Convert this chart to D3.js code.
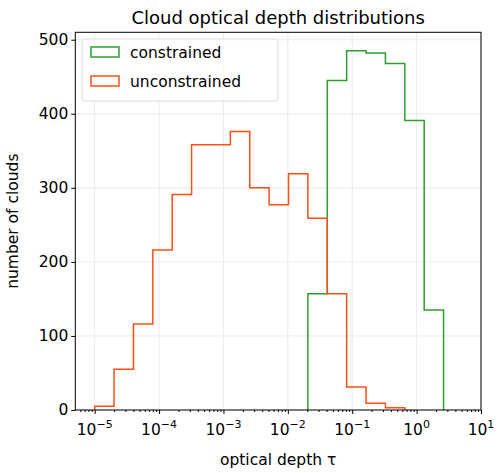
<!DOCTYPE html><html><head><meta charset="utf-8"><script src="https://cdn.jsdelivr.net/npm/d3@7"></script>
<style>body{margin:0;background:#fff}text{font-family:"DejaVu Sans";}</style></head><body><svg id="c" width="500" height="473"></svg><script>
const binEdges=[1e-5,2e-5,4e-5,8e-5,1.6e-4,3.2e-4,6.4e-4,1.28e-3,2.56e-3,5.12e-3,1.024e-2,2.048e-2,4.096e-2,8.192e-2,0.16384,0.32768,0.65536,1.31072,2.62144];
const unconstrained=[5,55,116,216,291,358,358,376,300,277,319,259,157,31,9,3,0,0];
const constrained=[0,0,0,0,0,0,0,0,0,0,0,157,445,485,482,468,391,135];
const xTicks=[-5,-4,-3,-2,-1,0,1];
const yTicks=[0,100,200,300,400,500];
const svg=d3.select("#c");
const L=75.3,R=481,T=32.3,B=410;
const x=d3.scaleLog().domain([5e-6,10]).range([L,R]);
const y=d3.scaleLinear().domain([0,510]).range([B,T]);
const g=svg.append("g");
xTicks.forEach(e=>g.append("line").attr("x1",x(10**e)).attr("x2",x(10**e)).attr("y1",T).attr("y2",B).attr("stroke","#e6e6e6").attr("stroke-width",0.8));
yTicks.forEach(v=>g.append("line").attr("x1",L).attr("x2",R).attr("y1",y(v)).attr("y2",y(v)).attr("stroke","#e6e6e6").attr("stroke-width",0.8));
function stepPath(vals){
  let first=vals.findIndex(v=>v>0),last=vals.length-1;while(vals[last]===0)last--;
  let p=[[binEdges[first],0]];
  for(let i=first;i<=last;i++){p.push([binEdges[i],vals[i]]);p.push([binEdges[i+1],vals[i]]);}
  p.push([binEdges[last+1],0]);
  return d3.line().x(d=>x(d[0])).y(d=>y(d[1]))(p);
}
g.append("path").attr("d",stepPath(constrained)).attr("fill","none").attr("stroke","#2ca02c").attr("stroke-width",1.5);
g.append("path").attr("d",stepPath(unconstrained)).attr("fill","none").attr("stroke","#ff4f13").attr("stroke-width",1.5);
svg.append("g").attr("transform",`translate(0,${B})`).call(d3.axisBottom(x).tickValues(xTicks.map(e=>10**e)).tickFormat("").tickSize(4));
svg.append("g").attr("transform",`translate(0,${B})`).call(d3.axisBottom(x).tickValues(d3.range(-6,1).flatMap(e=>d3.range(2,10).map(m=>m*10**e)).filter(v=>v>=5e-6&&v<=10)).tickFormat("").tickSize(2));
xTicks.forEach(e=>{const t=svg.append("text").attr("x",x(10**e)).attr("y",B+25).attr("text-anchor","middle").attr("font-size",15.5).attr("fill","#000");
 t.append("tspan").text("10");t.append("tspan").attr("dy",-7).attr("font-size",11).text(e<0?"\u2212"+(-e):""+e);});
svg.append("g").attr("transform",`translate(${L},0)`).call(d3.axisLeft(y).tickValues(yTicks).tickSize(4)).selectAll("text").attr("font-size",15.5).attr("font-family","DejaVu Sans").attr("fill","#000");
svg.selectAll(".domain").remove();
svg.append("rect").attr("x",L).attr("y",T).attr("width",R-L).attr("height",B-T).attr("fill","none").attr("stroke","#000").attr("stroke-width",1);
svg.append("text").attr("x",(L+R)/2).attr("y",24).attr("text-anchor","middle").attr("font-size",18).text("Cloud optical depth distributions");
svg.append("text").attr("x",(L+R)/2).attr("y",465).attr("text-anchor","middle").attr("font-size",15.5).text("optical depth \u03c4");
svg.append("text").attr("transform",`translate(18,${(T+B)/2}) rotate(-90)`).attr("text-anchor","middle").attr("font-size",15.5).text("number of clouds");
const lg=svg.append("g");
lg.append("rect").attr("x",82).attr("y",39).attr("width",196).attr("height",62).attr("rx",3).attr("fill","#fff").attr("fill-opacity",0.8).attr("stroke","#ddd");
[["constrained","#2ca02c"],["unconstrained","#ff4f13"]].forEach((d,i)=>{const yy=50+i*29;
 lg.append("rect").attr("x",91).attr("y",yy-3).attr("width",28).attr("height",10).attr("fill","none").attr("stroke",d[1]).attr("stroke-width",1.5);
 lg.append("text").attr("x",130).attr("y",yy+8).attr("font-size",15.5).text(d[0]);});
</script></body></html>
